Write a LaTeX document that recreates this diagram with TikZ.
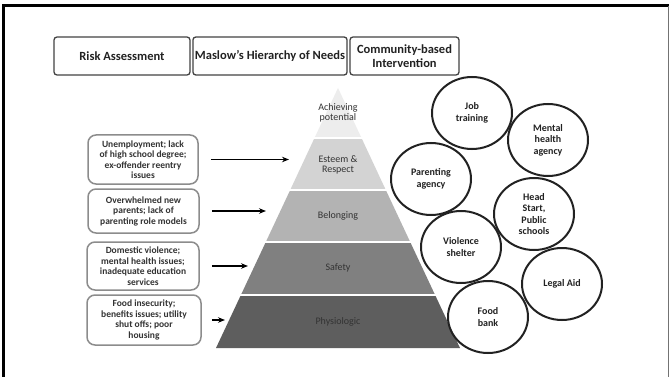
\documentclass[tikz,border=0pt]{standalone}
\usepackage{fontspec}
\setmainfont{Carlito}
\usetikzlibrary{arrows.meta,shapes.geometric}
\definecolor{lvlA}{HTML}{EDEDED}
\definecolor{lvlB}{HTML}{D3D3D3}
\definecolor{lvlC}{HTML}{B3B3B3}
\definecolor{lvlD}{HTML}{808080}
\definecolor{lvlE}{HTML}{5E5E5E}
\definecolor{ink}{HTML}{222222}
\tikzset{
  header/.style={draw=ink!85, line width=1.3pt, rounded corners=3pt, font=\bfseries\fontsize{12.5}{14}\selectfont,
    text=ink, align=center, minimum height=38pt, inner sep=2pt},
  riskbox/.style={draw=black!45, line width=1.5pt, rounded corners=8pt, align=center, text=black!80,
    font=\bfseries\fontsize{9.5}{10.5}\selectfont, inner sep=1pt},
  agency/.style={draw=ink, line width=2pt, ellipse, minimum width=80pt, minimum height=72pt, align=center,
    text=ink, font=\bfseries\fontsize{10}{11.5}\selectfont, inner sep=0pt},
  level/.style={align=center, text=black!80, font=\fontsize{10}{10.5}\selectfont},
  tier/.style={draw=white, line width=2.2pt, line join=miter},
  arr/.style={-{Stealth[length=7pt,width=5.5pt]}, line width=1.3pt, black}
}
\begin{document}
\begin{tikzpicture}[x=1pt,y=-1pt]
  \useasboundingbox (0,0) rectangle (669,377);
  \fill[white] (0,0) rectangle (669,377);
  % frame
  \draw[line width=3pt, black] (3.5,377) -- (3.5,6) -- (669,6);
  \draw[line width=1pt, black!55] (668,6) -- (668,377);

  % column headers
  \node[header, minimum width=136pt] (h1) at (122,56) {Risk Assessment};
  \node[header, minimum width=154pt] (h2) at (270,56) {Maslow’s Hierarchy of Needs};
  \node[header, minimum width=109pt] (h3) at (404.5,56) {Community-based\\Intervention};

  % pyramid tiers
  \fill[lvlE] (216,348) -- (460,348) -- (435.1,295) -- (240.9,295) -- cycle;
  \fill[lvlD] (240.9,295) -- (435.1,295) -- (410.2,242) -- (265.8,242) -- cycle;
  \fill[lvlC] (265.8,242) -- (410.2,242) -- (385.8,190) -- (290.2,190) -- cycle;
  \fill[lvlB] (290.2,190) -- (385.8,190) -- (361.5,138) -- (314.5,138) -- cycle;
  \fill[lvlA] (314.5,138) -- (361.5,138) -- (338,88) -- cycle;
  \foreach \yy/\xl/\xr in {295/240.9/435.1, 242/265.8/410.2, 190/290.2/385.8, 138/314.5/361.5}
    \draw[tier] (\xl-2,\yy) -- (\xr+2,\yy);

  \node[level] (p5) at (338,113) {Achieving\\potential};
  \node[level] (p4) at (338,165) {Esteem \&\\Respect};
  \node[level] (p3) at (338,216) {Belonging};
  \node[level] (p2) at (338,268) {Safety};
  \node[level] (p1) at (338,322) {Physiologic};

  % risk factors
  \node[riskbox, minimum width=110pt, minimum height=49pt] (r1) at (143,159.5)
    {Unemployment; lack\\of high school degree;\\ex-offender reentry\\issues};
  \node[riskbox, minimum width=111pt, minimum height=44pt] (r2) at (143.5,211)
    {Overwhelmed new\\parents; lack of\\parenting role models};
  \node[riskbox, minimum width=112pt, minimum height=48pt] (r3) at (143,266)
    {Domestic violence;\\mental health issues;\\inadequate education\\services};
  \node[riskbox, minimum width=114pt, minimum height=50pt] (r4) at (144,320)
    {Food insecurity;\\benefits issues; utility\\shut offs; poor\\housing};

  % arrow tips toward the pyramid
  \coordinate (e1) at (289,0);
  \coordinate (e2) at (266,0);
  \coordinate (e3) at (248,0);
  \coordinate (e4) at (225,0);
  \draw[arr, shorten <=12pt] (r1.east) -- (r1.east -| e1);
  \draw[arr, shorten <=12pt] (r2.east) -- (r2.east -| e2);
  \draw[arr, shorten <=12pt] (r3.east) -- (r3.east -| e3);
  \draw[arr, shorten <=10pt] (r4.east) -- (r4.east -| e4);

  % community agencies
  \node[agency] (c1) at (472,113) {Job\\training};
  \node[agency] (c2) at (548,140) {Mental\\health\\agency};
  \node[agency] (c3) at (431,179) {Parenting\\agency};
  \node[agency] (c4) at (534,214) {Head\\Start,\\Public\\schools};
  \node[agency] (c5) at (461,247) {Violence\\shelter};
  \node[agency] (c6) at (562,284) {Legal Aid};
  \node[agency] (c7) at (488,317) {Food\\bank};
\end{tikzpicture}
\end{document}
